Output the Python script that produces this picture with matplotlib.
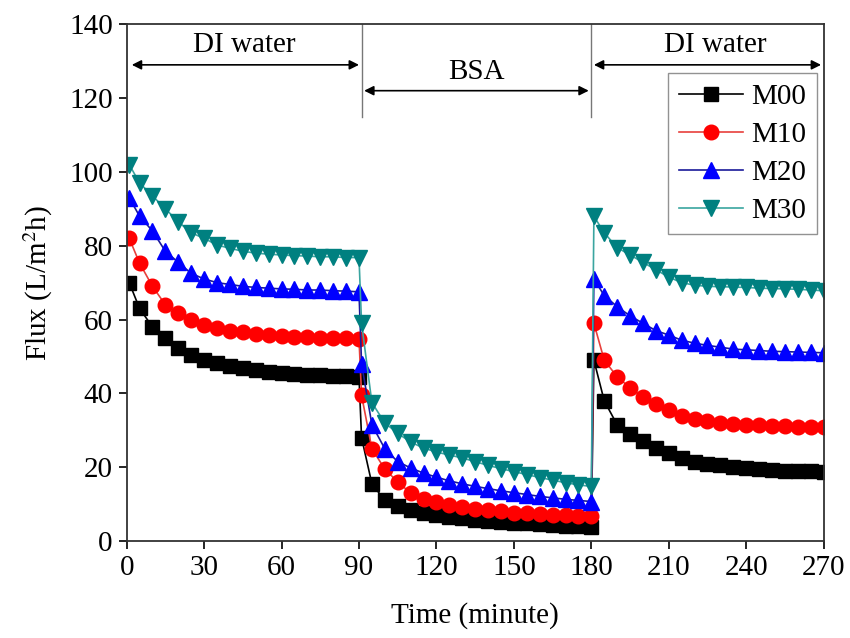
import numpy as np
import matplotlib.pyplot as plt

plt.rcParams["font.family"] = ["Liberation Serif", "DejaVu Serif"]
plt.rcParams["mathtext.fontset"] = "stix"

# time points (minute) for each stage
t_di1 = [1, 5, 10, 15, 20, 25, 30, 35, 40, 45, 50, 55, 60, 65, 70, 75, 80, 85, 90]
t_bsa = [91, 95, 100, 105, 110, 115, 120, 125, 130, 135, 140, 145, 150, 155, 160, 165, 170, 175, 180]
t_di2 = [181, 185, 190, 195, 200, 205, 210, 215, 220, 225, 230, 235, 240, 245, 250, 255, 260, 265, 270]

# flux values, DI water -> BSA -> DI water
m00 = [70, 63, 58, 55, 52.3, 50.4, 49, 48.2, 47.5, 46.8, 46.3, 45.8, 45.5, 45.3, 45.1, 45, 44.8, 44.7, 44.5,
       28, 15.5, 11, 9.5, 8.5, 7.5, 7, 6.5, 6.2, 5.8, 5.5, 5.2, 5, 4.8, 4.6, 4.4, 4.2, 4.0, 3.9,
       49, 38, 31.5, 29, 27, 25.2, 23.8, 22.5, 21.5, 21, 20.5, 20, 19.7, 19.5, 19.3, 19.1, 19, 18.9, 18.8]
m10 = [82, 75.3, 69, 64, 61.7, 60, 58.5, 57.7, 57, 56.6, 56.2, 55.9, 55.6, 55.4, 55.2, 55.1, 55, 54.9, 54.8,
       39.5, 25, 19.5, 16, 13, 11.5, 10.5, 9.8, 9.2, 8.8, 8.4, 8.0, 7.7, 7.5, 7.3, 7.1, 7.0, 6.9, 6.8,
       59, 49, 44.5, 41.5, 39, 37, 35.5, 34, 33, 32.5, 32, 31.8, 31.5, 31.3, 31.2, 31.1, 31, 30.9, 30.8]
m20 = [93, 88, 84, 78.5, 75.5, 72.5, 71, 70, 69.5, 69, 68.7, 68.5, 68.3, 68.2, 68, 68, 67.8, 67.7, 67.5,
       48, 31.5, 25, 21.5, 19.8, 18.4, 17.3, 16.3, 15.5, 14.8, 14.2, 13.6, 13.1, 12.6, 12.1, 11.7, 11.3, 11, 10.7,
       71, 66.5, 63.5, 61, 59, 57, 55.8, 54.4, 53.6, 53, 52.5, 52, 51.8, 51.6, 51.4, 51.3, 51.2, 51.1, 51]
m30 = [102, 97, 93.5, 90, 86.5, 83.5, 82, 80.2, 79.3, 78.5, 78, 77.7, 77.5, 77.3, 77.2, 77, 77, 76.8, 76.8,
       59, 37.5, 32, 29.2, 26.8, 25.2, 24.1, 23.3, 22.5, 21.5, 20.5, 19.6, 18.8, 18, 17.2, 16.5, 15.8, 15.2, 14.8,
       88, 83.5, 79.5, 77.5, 75.5, 73.5, 71.5, 70, 69.3, 69, 68.9, 68.8, 68.7, 68.5, 68.4, 68.3, 68.2, 68, 67.8]

labels = ["M00", "M10", "M20", "M30"]
colors = ["black", "#ff0000", "#0000ff", "#008080"]
line_colors = ["black", "#e8403c", "#1a1a9a", "#3aa5a0"]
markers = ["s", "o", "^", "v"]
msizes = [10, 10.5, 11, 11]

t_all = t_di1 + t_bsa + t_di2

fig = plt.figure(figsize=(8.5, 6.38), dpi=100)
ax = fig.add_axes([0.149, 0.152, 0.820, 0.810])

for y, lab, c, lc, m, ms in zip([m00, m10, m20, m30], labels, colors, line_colors, markers, msizes):
    ax.plot(t_all, y, color=lc, linewidth=1.2, marker=m, markersize=ms,
            markerfacecolor=c, markeredgecolor=c, label=lab)

ax.set_xlim(0, 270)
ax.set_ylim(0, 140)
ax.set_xticks(np.arange(0, 271, 30))
ax.set_yticks(np.arange(0, 141, 20))
ax.tick_params(direction="out", length=6, width=1.2, labelsize=21, top=False, right=False, pad=4)
for s in ax.spines.values():
    s.set_linewidth(1.3)
    s.set_color("#333333")

ax.set_xlabel("Time (minute)", fontsize=21, labelpad=15)
ax.set_ylabel("Flux (L/m$^{2}$h)", fontsize=21, labelpad=10)

# stage separators and arrows
for xv in [91, 180]:
    ax.plot([xv, xv], [115, 140], color="#777777", linewidth=1)
arrow = dict(arrowstyle="<|-|>", color="black", linewidth=1.2, mutation_scale=14, shrinkA=0, shrinkB=0)
ax.annotate("", xy=(2, 129), xytext=(90, 129), arrowprops=arrow)
ax.annotate("", xy=(92, 122), xytext=(179, 122), arrowprops=arrow)
ax.annotate("", xy=(181, 129), xytext=(269, 129), arrowprops=arrow)
ax.text(45.5, 134.5, "DI water", ha="center", va="center", fontsize=21)
ax.text(135.5, 127, "BSA", ha="center", va="center", fontsize=21)
ax.text(228, 134.5, "DI water", ha="center", va="center", fontsize=21)

leg = ax.legend(loc="upper right", bbox_to_anchor=(0.99, 0.905), fontsize=21, frameon=True,
                fancybox=False, edgecolor="#777777", handlelength=2.2, labelspacing=0.4,
                borderpad=0.35, handletextpad=0.3, borderaxespad=0)
leg.get_frame().set_linewidth(1.0)

fig.savefig("out.png", dpi=100)
